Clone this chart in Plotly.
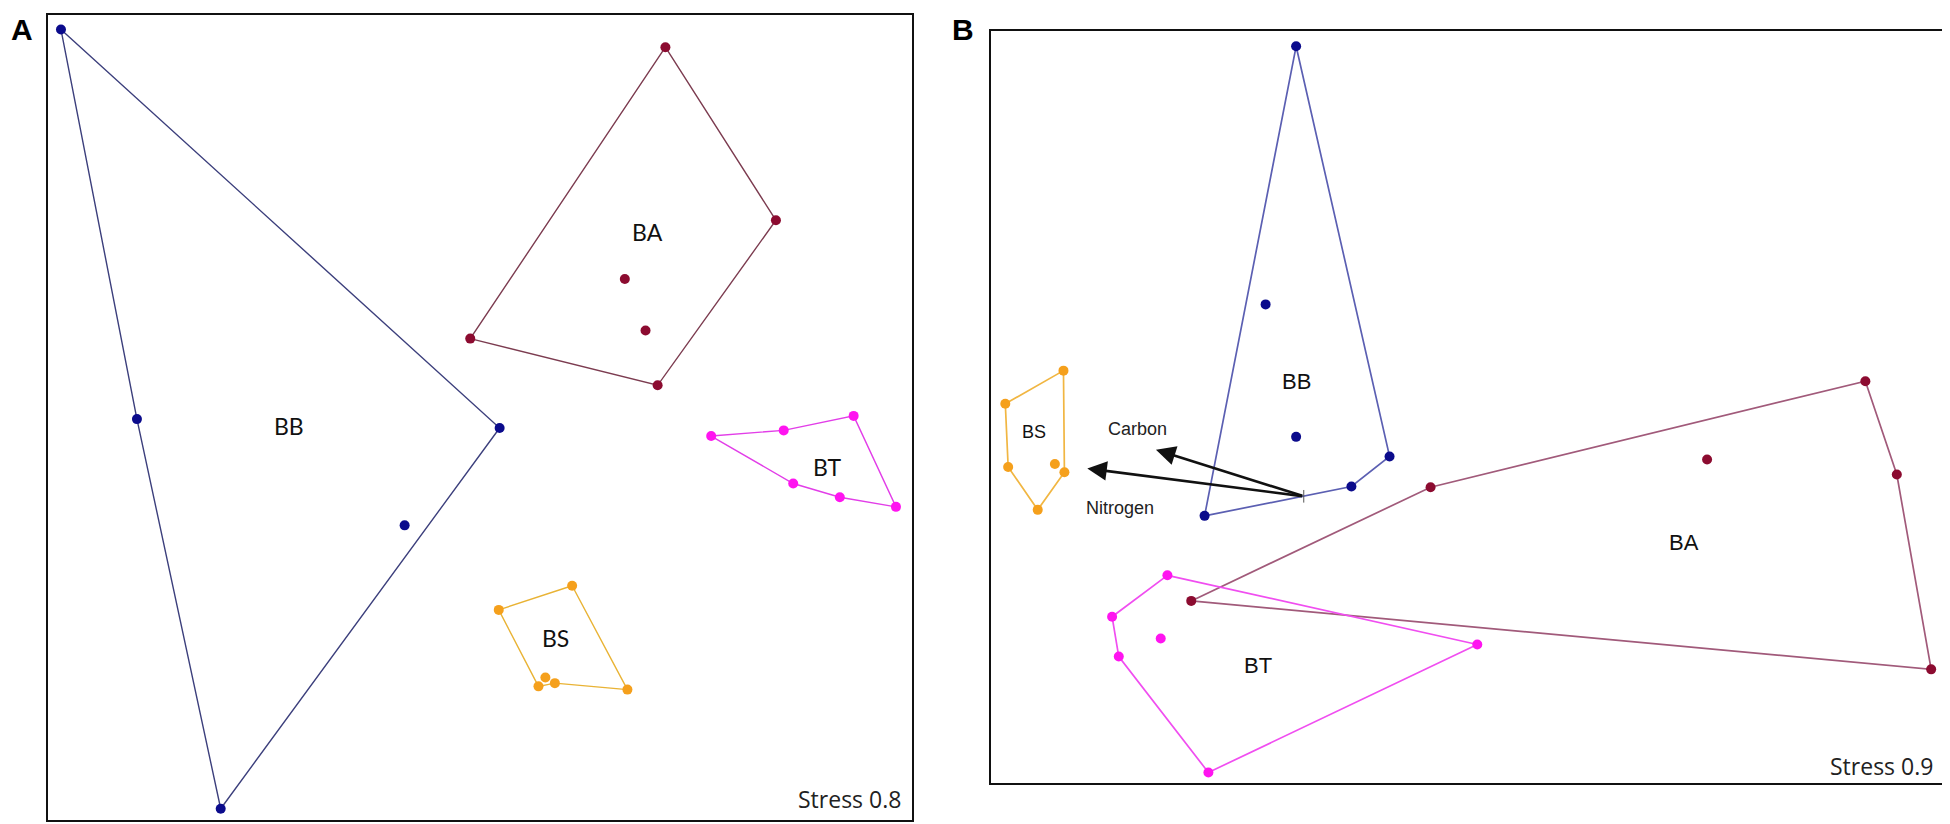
import plotly.graph_objects as go

# ---------------- data (panel units: 0-100 of each plot box) ----------------
groups = ["BB", "BA", "BT", "BS"]

# Panel A
A_BB_x = [1.5, 10.3, 20.0, 52.3, 41.3]
A_BB_y = [98.2, 49.8, 1.4, 48.7, 36.6]
A_BB_hull = [0, 3, 2, 1, 0]

A_BA_x = [71.5, 84.3, 70.6, 48.9, 66.8, 69.2]
A_BA_y = [96.0, 74.5, 54.0, 59.8, 67.2, 60.8]
A_BA_hull = [0, 1, 2, 3, 0]

A_BT_x = [76.8, 85.2, 93.3, 98.2, 91.7, 86.3]
A_BT_y = [47.7, 48.4, 50.2, 38.9, 40.1, 41.8]
A_BT_hull = [0, 1, 2, 3, 4, 5, 0]

A_BS_x = [60.7, 52.2, 56.8, 57.6, 58.7, 67.1]
A_BS_y = [29.1, 26.1, 16.6, 17.7, 17.0, 16.2]
A_BS_hull = [0, 5, 4, 2, 1, 0]

A_label_x = [27.9, 69.4, 90.3, 58.8]
A_label_y = [49.0, 73.0, 43.9, 22.6]
A_stress = "Stress 0.8"

# Panel B
B_BB_x = [32.0, 28.8, 32.0, 41.8, 37.8, 22.4]
B_BB_y = [97.9, 63.6, 46.0, 43.4, 39.4, 35.5]
B_BB_hull = [0, 3, 4, 5, 0]

B_BA_x = [91.7, 95.0, 98.6, 21.0, 46.1, 75.1]
B_BA_y = [53.4, 41.0, 15.1, 24.2, 39.3, 43.0]
B_BA_hull = [3, 4, 0, 1, 2, 3]

B_BT_x = [18.5, 12.7, 13.4, 22.8, 51.0, 17.8]
B_BT_y = [27.6, 22.1, 16.8, 1.4, 18.4, 19.2]
B_BT_hull = [0, 4, 3, 2, 1, 0]

B_BS_x = [7.6, 1.5, 1.8, 4.9, 7.7, 6.7]
B_BS_y = [54.8, 50.4, 42.0, 36.3, 41.3, 42.4]
B_BS_hull = [0, 1, 2, 3, 4, 0]

B_label_x = [32.0, 72.7, 28.0, 4.5]
B_label_y = [53.4, 32.0, 15.6, 46.6]
B_stress = "Stress 0.9"

vectors = ["Carbon", "Nitrogen"]
vec_origin = (32.8, 38.1)
vec_tip_x = [17.3, 10.1]
vec_tip_y = [44.3, 41.8]
vec_label_x = [15.4, 13.5]
vec_label_y = [47.1, 36.6]

# ---------------- styles ----------------
dot_col = {"BB": "#0b0b8c", "BA": "#8c0b30", "BT": "#ff14f0", "BS": "#f5a01c"}
lineA = {"BB": "#3c3f7c", "BA": "#7c3c50", "BT": "#e23ee8", "BS": "#e9b335"}
lineB = {"BB": "#5b5fb2", "BA": "#a15a7a", "BT": "#f04ef0", "BS": "#f1b642"}

fig = go.Figure()

def add_group(x, y, hull, g, lc, xa, ya, lw):
    fig.add_trace(go.Scatter(
        x=[x[i] for i in hull], y=[y[i] for i in hull], mode="lines",
        line=dict(color=lc, width=lw), xaxis=xa, yaxis=ya,
        hoverinfo="skip", showlegend=False))
    fig.add_trace(go.Scatter(
        x=x, y=y, mode="markers", marker=dict(color=dot_col[g], size=10),
        xaxis=xa, yaxis=ya, name=g, showlegend=False))

A = {"BB": (A_BB_x, A_BB_y, A_BB_hull), "BA": (A_BA_x, A_BA_y, A_BA_hull),
     "BT": (A_BT_x, A_BT_y, A_BT_hull), "BS": (A_BS_x, A_BS_y, A_BS_hull)}
B = {"BB": (B_BB_x, B_BB_y, B_BB_hull), "BA": (B_BA_x, B_BA_y, B_BA_hull),
     "BT": (B_BT_x, B_BT_y, B_BT_hull), "BS": (B_BS_x, B_BS_y, B_BS_hull)}

for g in groups:
    add_group(*A[g], g, lineA[g], "x", "y", 1.4)
for g in groups:
    add_group(*B[g], g, lineB[g], "x2", "y2", 1.7)

# arrow origin tick
fig.add_trace(go.Scatter(x=[vec_origin[0]], y=[vec_origin[1]], mode="markers",
                         marker=dict(symbol="line-ns", size=9,
                                     line=dict(color="#555555", width=1)),
                         xaxis="x2", yaxis="y2", hoverinfo="skip", showlegend=False))

ann = []
labA_font = dict(family="Lato, Open Sans, sans-serif", size=23, color="#111111")
labB_font = dict(family="Liberation Sans, Arial, sans-serif", size=22, color="#111111")
for i, g in enumerate(groups):
    ann.append(dict(x=A_label_x[i], y=A_label_y[i], xref="x", yref="y", text=g,
                    showarrow=False, xanchor="center", yanchor="middle", font=labA_font))
for i, g in enumerate(groups):
    f = dict(labB_font)
    if g == "BS":
        f["size"] = 18
    ann.append(dict(x=B_label_x[i], y=B_label_y[i], xref="x2", yref="y2", text=g,
                    showarrow=False, xanchor="center", yanchor="middle", font=f))
for i, v in enumerate(vectors):
    ann.append(dict(x=vec_tip_x[i], y=vec_tip_y[i], ax=vec_origin[0], ay=vec_origin[1],
                    xref="x2", yref="y2", axref="x2", ayref="y2", text="",
                    showarrow=True, arrowhead=2, arrowsize=1.5, arrowwidth=2.6,
                    arrowcolor="#111111", standoff=0, startstandoff=0))
    ann.append(dict(x=vec_label_x[i], y=vec_label_y[i], xref="x2", yref="y2", text=v,
                    showarrow=False, xanchor="center", yanchor="middle",
                    font=dict(family="Liberation Sans, Arial, sans-serif", size=18,
                              color="#222222")))

stress_font = dict(family="Open Sans, Lato, sans-serif", size=23, color="#222222")
ann.append(dict(x=99.0, y=2.6, xref="x", yref="y", text=A_stress, showarrow=False,
                xanchor="right", yanchor="middle", font=stress_font))
ann.append(dict(x=99.0, y=2.3, xref="x2", yref="y2", text=B_stress, showarrow=False,
                xanchor="right", yanchor="middle", font=stress_font))

panel_font = dict(family="Liberation Sans, Arial, sans-serif", size=30, color="#000000")
ann.append(dict(x=14 / 1950, y=1 - 21 / 824, xref="paper", yref="paper", text="<b>A</b>",
                showarrow=False, xanchor="center", yanchor="middle", font=panel_font))
ann.append(dict(x=955 / 1950, y=1 - 21 / 824, xref="paper", yref="paper", text="<b>B</b>",
                showarrow=False, xanchor="center", yanchor="middle", font=panel_font))

ax_common = dict(range=[0, 100], showgrid=False, zeroline=False, showticklabels=False,
                 ticks="", showline=True, mirror=True, linecolor="#111111", linewidth=2)

fig.update_layout(
    width=1950, height=824, margin=dict(l=0, r=0, t=0, b=0),
    paper_bgcolor="white", plot_bgcolor="white",
    xaxis=dict(domain=[40 / 1950, 903.5 / 1950], **ax_common),
    yaxis=dict(domain=[1 - 812 / 824, 1 - 7 / 824], **ax_common),
    xaxis2=dict(domain=[983 / 1950, 1936.5 / 1950], anchor="y2", **ax_common),
    yaxis2=dict(domain=[1 - 775 / 824, 1 - 22.5 / 824], anchor="x2", **ax_common),
    annotations=ann, showlegend=False,
)

fig.write_html("out.html")
